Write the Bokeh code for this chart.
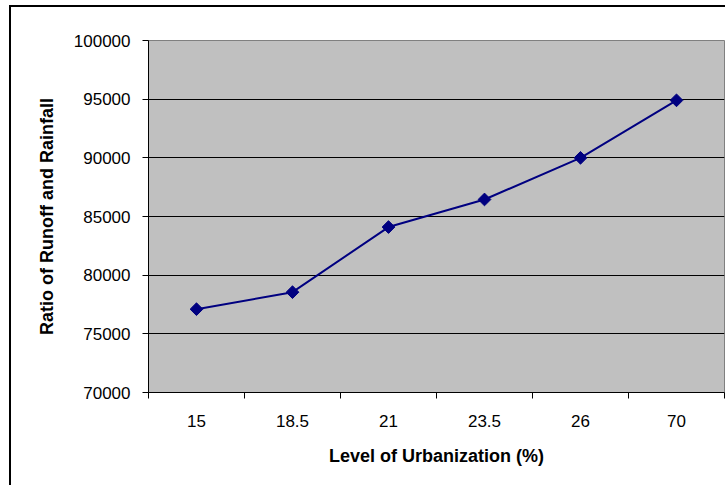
from bokeh.plotting import figure
from bokeh.models import FixedTicker, Range1d, ColumnDataSource, BasicTickFormatter
from bokeh.embed import file_html
from bokeh.resources import INLINE
import numpy as np

categories = ["15", "18.5", "21", "23.5", "26", "70"]
values = [77100, 78550, 84100, 86450, 90000, 94900]
y_ticks = [70000, 75000, 80000, 85000, 90000, 95000, 100000]

xpos = list(np.arange(len(categories)) + 0.5)
src = ColumnDataSource(dict(x=xpos, y=values, cat=categories))

p = figure(width=716, height=480, output_backend="svg", toolbar_location=None,
           x_range=Range1d(0, len(categories)), y_range=Range1d(70000, 100000),
           min_border_left=137, min_border_top=33, min_border_right=3, min_border_bottom=95,
           styles={"border-left": "2px solid black", "border-top": "2px solid black",
                   "margin-left": "9px", "margin-top": "5px"})

p.background_fill_color = "#C0C0C0"
p.border_fill_color = "white"
p.outline_line_color = "#808080"
p.outline_line_width = 1

p.line("x", "y", source=src, line_color="#000080", line_width=2)
p.scatter("x", "y", source=src, marker="square", angle=np.pi / 4, size=9,
          fill_color="#000080", line_color="#000080")

# x axis
p.xaxis.ticker = FixedTicker(ticks=xpos, minor_ticks=list(range(len(categories) + 1)))
p.xaxis.major_label_overrides = {x: c for x, c in zip(xpos, categories)}
p.xaxis.major_tick_out = 0
p.xaxis.major_tick_in = 0
p.xaxis.minor_tick_out = 6
p.xaxis.minor_tick_in = 0
p.xaxis.minor_tick_line_color = "black"
p.xaxis.axis_line_color = "black"
p.xaxis.major_label_standoff = 16
p.xaxis.axis_label = "Level of Urbanization (%)"
p.xaxis.axis_label_standoff = 16
p.xgrid.visible = False

# y axis
p.yaxis.ticker = FixedTicker(ticks=y_ticks, minor_ticks=[])
p.yaxis.formatter = BasicTickFormatter(use_scientific=False)
p.yaxis.major_tick_out = 6
p.yaxis.major_tick_in = 0
p.yaxis.axis_line_color = "black"
p.yaxis.major_label_standoff = 12
p.yaxis.axis_label = "Ratio of Runoff and Rainfall"
p.yaxis.axis_label_standoff = 14
p.ygrid.grid_line_color = "black"
p.ygrid.grid_line_width = 1

for ax in [p.xaxis, p.yaxis]:
    ax.major_label_text_font = "Liberation Sans"
    ax.major_label_text_font_size = "17px"
    ax.major_label_text_color = "black"
    ax.axis_label_text_font = "Liberation Sans"
    ax.axis_label_text_font_size = "18px"
    ax.axis_label_text_font_style = "bold"
    ax.axis_label_text_color = "black"

open("out.html", "w").write(file_html(p, INLINE))
